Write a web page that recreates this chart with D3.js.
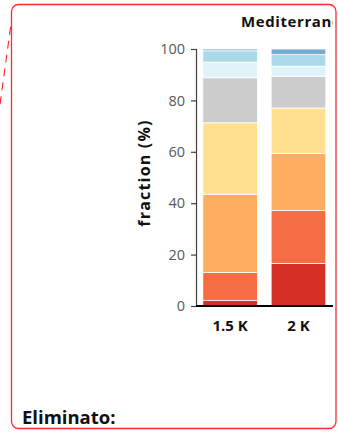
<!DOCTYPE html>
<html>
<head>
<meta charset="utf-8">
<script src="https://cdn.jsdelivr.net/npm/d3@7"></script>
<style>
  html, body { margin: 0; padding: 0; background: #fff; }
  svg { display: block; font-family: "Open Sans", "Noto Sans", sans-serif; }
</style>
</head>
<body>
<svg id="chart" width="338" height="432"></svg>
<script>
// Warming levels on the x axis
const categories = ["1.5 K", "2 K"];
// Stacked classes, listed from the bottom of each bar to the top
const classes = ["c1", "c2", "c3", "c4", "c5", "c6", "c7", "c8"];
const classColors = ["#d73027", "#f46d43", "#fdae61", "#fee090", "#cccccc", "#e0f3f8", "#abd9e9", "#74add1"];
// Fraction (%) of each class per warming level
const values15 = [2.2, 10.8, 30.5, 27.8, 17.5, 6.1, 4.4, 0.7];
const values20 = [16.5, 20.7, 22.2, 17.6, 12.4, 3.9, 4.5, 2.2];
const yTicks = [0, 20, 40, 60, 80, 100];
const titleText = "Mediterranean";
const yTitle = "fraction (%)";
const noteText = "Eliminato:";

const rows = categories.map((c, i) => {
  const vals = i === 0 ? values15 : values20;
  const r = { cat: c };
  classes.forEach((k, j) => r[k] = vals[j]);
  return r;
});

const svg = d3.select("#chart");

// comment balloon outline and its dashed connector
svg.append("line")
  .attr("x1", 12.5).attr("y1", 13).attr("x2", -1).attr("y2", 112)
  .attr("stroke", "#ff2020").attr("stroke-width", 1.1)
  .attr("stroke-dasharray", "8,6");
svg.append("rect")
  .attr("x", 11.5).attr("y", 4.5).attr("width", 324.5).attr("height", 424)
  .attr("rx", 7).attr("ry", 7)
  .attr("fill", "#fff").attr("stroke", "#ff2a2a").attr("stroke-width", 1.3);

svg.append("defs").append("clipPath").attr("id", "clip")
  .append("rect").attr("x", 12).attr("y", 5).attr("width", 321).attr("height", 420);

const g = svg.append("g").attr("clip-path", "url(#clip)");

const x = d3.scaleBand().domain(categories).range([196, 332.6])
  .paddingInner(0.2).paddingOuter(0.1);
const y = d3.scaleLinear().domain([0, 100]).range([306, 49]);

const stack = d3.stack().keys(classes)(rows);

g.selectAll("g.layer").data(stack).join("g")
  .attr("class", "layer")
  .attr("fill", (d, i) => classColors[i])
  .selectAll("rect").data(d => d).join("rect")
  .attr("x", d => x(d.data.cat))
  .attr("width", x.bandwidth())
  .attr("y", d => y(d[1]))
  .attr("height", d => y(d[0]) - y(d[1]))
  .attr("stroke", "#fff").attr("stroke-width", 0.8);

// y axis
const yAxis = g.append("g").attr("transform", "translate(196,0)")
  .call(d3.axisLeft(y).tickValues(yTicks).tickSize(5).tickPadding(6));
yAxis.select(".domain").attr("stroke", "#404040").attr("stroke-width", 1.2);
yAxis.selectAll(".tick line").attr("stroke", "#404040").attr("stroke-width", 1.2);
yAxis.selectAll(".tick text").attr("fill", "#595959")
  .style("font-size", "14.5px").style("font-family", "'Open Sans', sans-serif");

// x axis baseline and labels
const xAxis = g.append("g").attr("transform", "translate(0,306)")
  .call(d3.axisBottom(x).tickSize(0).tickPadding(14));
xAxis.select(".domain").attr("d", "M196,0H336").attr("stroke", "#000").attr("stroke-width", 2.2);
xAxis.selectAll(".tick text").attr("fill", "#111")
  .style("font-size", "15px").style("font-weight", "bold")
  .style("font-family", "'Open Sans', sans-serif");

// y axis title
g.append("text")
  .attr("transform", "translate(149.5,173) rotate(-90)")
  .attr("text-anchor", "middle")
  .style("font-size", "16px").style("font-weight", "bold")
  .style("letter-spacing", "1.2px")
  .attr("fill", "#111")
  .text(yTitle);

// panel title
g.append("text")
  .attr("x", 241).attr("y", 26.7)
  .style("font-size", "15px").style("font-weight", "bold")
  .style("letter-spacing", "0.6px")
  .attr("fill", "#111")
  .text(titleText);

svg.append("text")
  .attr("x", 22).attr("y", 423.5)
  .style("font-size", "18.5px").style("font-weight", "bold")
  .attr("fill", "#111")
  .text(noteText);
</script>
</body>
</html>
